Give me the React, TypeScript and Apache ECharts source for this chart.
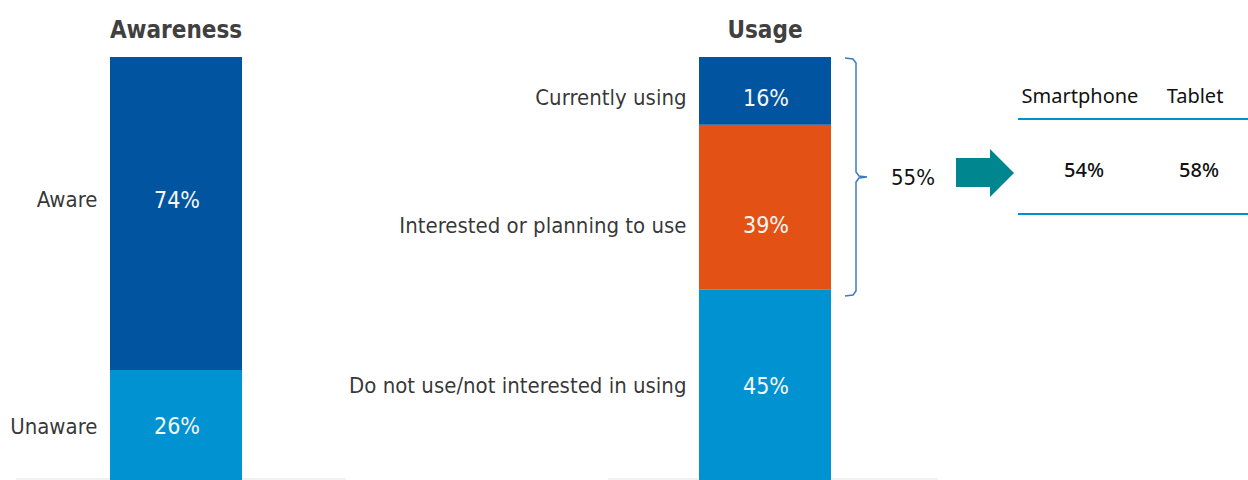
import React, { useEffect, useRef } from "react";
import * as echarts from "echarts";

const awarenessCategories = ["Unaware", "Aware"]; // bottom to top
const awarenessValues = [26, 74];
const awarenessColors = ["#0092d1", "#0054a0"];
const awarenessLabelShift = [1, -14];

const usageCategories = ["Do not use/not interested in using", "Interested or planning to use", "Currently using"];
const usageValues = [45, 39, 16];
const usageColors = ["#0092d1", "#e35214", "#0054a0"];
const usageLabelShift = [1, 18, 7];

const panelTitles = ["Awareness", "Usage"];
const bracketLabel = "55%";
const deviceLabels = ["Smartphone", "Tablet"];
const deviceValues = ["54%", "58%"];

const FONT = "'Liberation Sans Narrow', 'DejaVu Sans Condensed', Roboto, sans-serif";
const TFONT = "'Noto Sans', sans-serif";

function mids(vals: number[]) {
  let acc = 0;
  return vals.map((v) => {
    const m = acc + v / 2;
    acc += v;
    return m;
  });
}

export default function App() {
  const ref = useRef<HTMLDivElement>(null);
  useEffect(() => {
    const chart = echarts.init(ref.current!, null, { renderer: "svg" });
    const panels = [
      { cats: awarenessCategories, vals: awarenessValues, cols: awarenessColors, shift: awarenessLabelShift, stack: "aw" },
      { cats: usageCategories, vals: usageValues, cols: usageColors, shift: usageLabelShift, stack: "us" },
    ];
    const series: any[] = [];
    panels.forEach((p, gi) => {
      p.vals.forEach((v, i) => {
        series.push({
          type: "bar",
          name: p.cats[i],
          stack: p.stack,
          xAxisIndex: gi,
          yAxisIndex: gi,
          barWidth: 132,
          data: [v],
          itemStyle: { color: p.cols[i] },
          label: {
            show: true,
            position: "inside",
            formatter: "{c}%",
            color: "#f6f6f6",
            fontSize: 23,
            fontFamily: FONT,
            offset: [1, p.shift[i]],
          },
          silent: true,
        });
      });
      const m = mids(p.vals);
      series.push({
        type: "scatter",
        xAxisIndex: gi,
        yAxisIndex: gi,
        symbolSize: 1,
        itemStyle: { color: "rgba(0,0,0,0)" },
        data: m.map((y, i) => ({
          value: [0, y],
          name: p.cats[i],
          label: { offset: [0, p.shift[i]] },
        })),
        label: {
          show: true,
          position: "left",
          distance: 78,
          formatter: (pp: any) => pp.name,
          color: "#000000",
          fontSize: 22,
          fontFamily: FONT,
        },
        silent: true,
      });
    });

    const gridLefts = [110, 699];
    const baseLines = [
      [16, 346],
      [608, 938],
    ];

    const graphic: any[] = [];
    baseLines.forEach(([a, b]) => {
      graphic.push({
        type: "line",
        shape: { x1: a, y1: 479, x2: b, y2: 479 },
        style: { stroke: "#ececec", lineWidth: 1.5 },
        silent: true,
      });
    });
    // bracket
    graphic.push({
      type: "polyline",
      shape: {
        points: [
          [845, 58],
          [853, 59],
          [856, 63],
          [856, 172],
          [859, 176],
          [867, 177],
          [859, 178],
          [856, 182],
          [856, 291],
          [853, 295],
          [845, 296],
        ],
      },
      style: { stroke: "#3a7cc0", lineWidth: 1.5, fill: null },
      silent: true,
    });
    graphic.push({
      type: "text",
      x: 891,
      y: 177,
      style: {
        text: bracketLabel,
        fill: "#111",
        font: `22px ${FONT}`,
        verticalAlign: "middle",
        textAlign: "left",
      },
      silent: true,
    });
    // arrow
    graphic.push({
      type: "polygon",
      shape: {
        points: [
          [956, 158],
          [990, 158],
          [990, 149],
          [1014, 173],
          [990, 197],
          [990, 187],
          [956, 187],
        ],
      },
      style: { fill: "#00868f" },
      silent: true,
    });
    // table
    const colX = [1080, 1195];
    deviceLabels.forEach((l, i) => {
      graphic.push({
        type: "text",
        x: colX[i],
        y: 95,
        style: { text: l, fill: "#111", font: `20px ${TFONT}`, textAlign: "center", verticalAlign: "middle" },
        silent: true,
      });
      graphic.push({
        type: "text",
        x: colX[i] + 4,
        y: 169,
        style: { text: deviceValues[i], fill: "#111", font: `500 20px ${TFONT}`, textAlign: "center", verticalAlign: "middle" },
        silent: true,
      });
    });
    [119, 214].forEach((y) => {
      graphic.push({
        type: "line",
        shape: { x1: 1018, y1: y, x2: 1248, y2: y },
        style: { stroke: "#0090d0", lineWidth: 2 },
        silent: true,
      });
    });

    chart.setOption({
      animation: false,
      grid: gridLefts.map((l) => ({ left: l, width: 132, top: 57, height: 423, outerBoundsMode: "none", containLabel: false })),
      xAxis: panelTitles.map((t, i) => ({
        type: "category",
        gridIndex: i,
        position: "top",
        data: [t],
        axisLine: { show: false },
        axisTick: { show: false },
        axisLabel: {
          show: true,
          interval: 0,
          margin: 15,
          color: "#404040",
          fontSize: 24,
          fontWeight: "bold",
          fontFamily: FONT,
        },
      })),
      yAxis: panelTitles.map((_, i) => ({
        type: "value",
        gridIndex: i,
        min: 0,
        max: 100,
        show: false,
      })),
      series,
      graphic,
    });
    return () => chart.dispose();
  }, []);
  return (
    <div
      ref={ref}
      style={{ position: "fixed", left: 0, top: 0, width: 1248, height: 480, background: "#fff" }}
    />
  );
}
